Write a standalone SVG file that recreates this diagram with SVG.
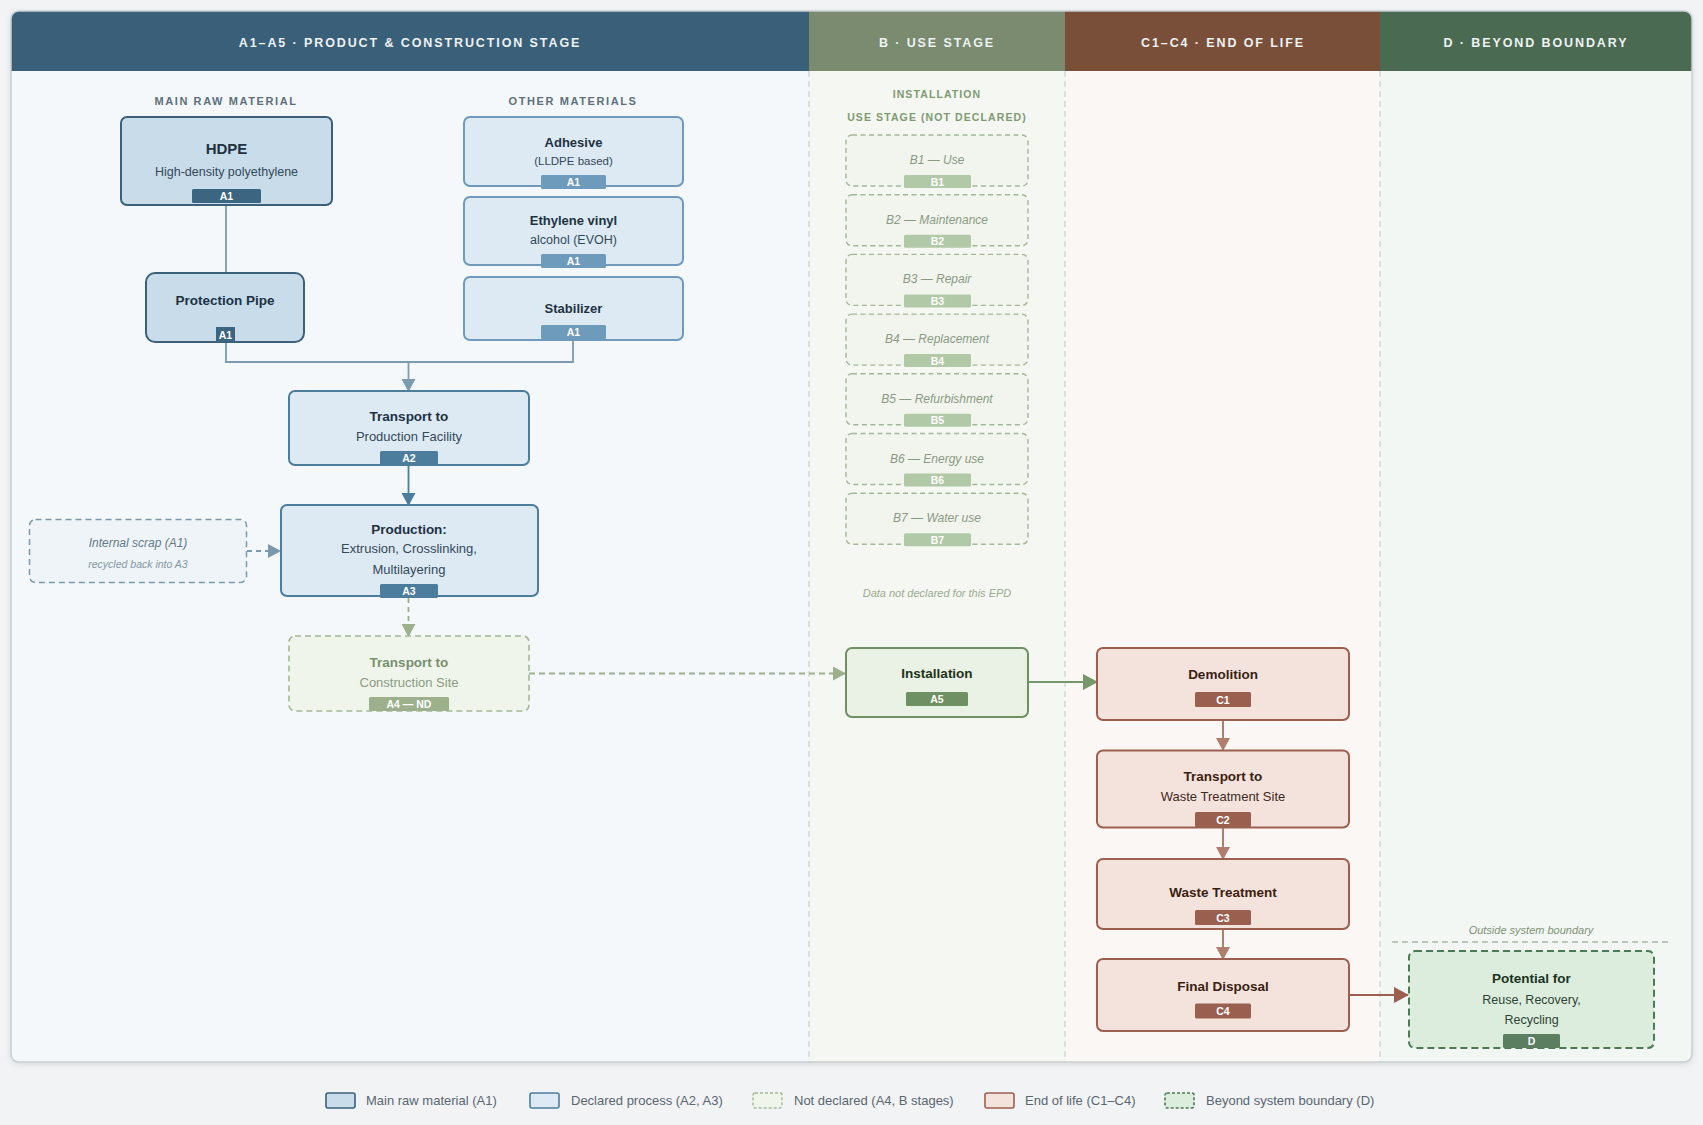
<svg xmlns="http://www.w3.org/2000/svg" width="1703" height="1125" viewBox="0 0 1703 1125">
<defs>
<style>
text{font-family:"Liberation Sans",Arial,sans-serif;text-anchor:middle}
.hdr{font-size:12.5px;font-weight:bold;fill:#eef2f4;letter-spacing:1.9px}
.sec{font-size:11px;font-weight:bold;fill:#5d707c;letter-spacing:1.6px}
.secg{font-size:10.5px;font-weight:bold;fill:#7f9a72;letter-spacing:1.1px}
.t{font-size:13.5px;font-weight:bold;fill:#1e3242}
.s{font-size:12.5px;fill:#34495a}
.bt{font-size:10.5px;font-weight:bold;fill:#fff}
.raw{fill:#c9dcea;stroke:#3b6079;stroke-width:2}
.dec{fill:#dde9f3;stroke:#4d7d9d;stroke-width:2}
.oth{fill:#dde9f3;stroke:#6f9abb;stroke-width:2}
.nd{fill:#f0f5ec;stroke:#a4b896;stroke-width:1.6;stroke-dasharray:6 4}
.bnd{fill:#f1f5ee;stroke:#a4b896;stroke-width:1.4;stroke-dasharray:5 3.5}
.blab{font-size:12px;font-style:italic;fill:#8b9a84}
.inst{fill:#eaf1e5;stroke:#6f9062;stroke-width:2}
.eol{fill:#f4e3dc;stroke:#9b5f4f;stroke-width:2}
.te{font-size:13.5px;font-weight:bold;fill:#3b1e12}
.se{font-size:12.5px;fill:#3f2a22}
.bey{fill:#dcedde;stroke:#4b7a54;stroke-width:2;stroke-dasharray:7 4}
.leg{font-size:13px;fill:#5a6670;text-anchor:start}
.vsep{stroke:#c9d0d4;stroke-width:1.2;stroke-dasharray:6 4}
</style>
<filter id="sh" x="-5%" y="-5%" width="110%" height="110%"><feDropShadow dx="0" dy="2" stdDeviation="3" flood-color="#000" flood-opacity="0.12"/></filter>
<clipPath id="pc"><rect x="11" y="11" width="1681" height="1051" rx="8"/></clipPath>
<marker id="mB" markerUnits="userSpaceOnUse" markerWidth="14" markerHeight="14" refX="12" refY="7" orient="auto"><path d="M0,0 L13,7 L0,14 Z" fill="#7b9bb1"/></marker>
<marker id="mB2" markerUnits="userSpaceOnUse" markerWidth="14" markerHeight="14" refX="12" refY="7" orient="auto"><path d="M0,0 L13,7 L0,14 Z" fill="#4d7d9d"/></marker>
<marker id="mS" markerUnits="userSpaceOnUse" markerWidth="14" markerHeight="14" refX="12" refY="7" orient="auto"><path d="M0,0 L13,7 L0,14 Z" fill="#7b98ac"/></marker>
<marker id="mG" markerUnits="userSpaceOnUse" markerWidth="14" markerHeight="14" refX="12" refY="7" orient="auto"><path d="M0,0 L13,7 L0,14 Z" fill="#9cb08c"/></marker>
<marker id="mG2" markerUnits="userSpaceOnUse" markerWidth="16" markerHeight="16" refX="14" refY="8" orient="auto"><path d="M0,0 L15,8 L0,16 Z" fill="#76976a"/></marker>
<marker id="mC" markerUnits="userSpaceOnUse" markerWidth="14" markerHeight="14" refX="12" refY="7" orient="auto"><path d="M0,0 L13,7 L0,14 Z" fill="#b07e6d"/></marker>
<marker id="mC2" markerUnits="userSpaceOnUse" markerWidth="16" markerHeight="16" refX="14" refY="8" orient="auto"><path d="M0,0 L15,8 L0,16 Z" fill="#9b5f4f"/></marker>
</defs>
<rect x="0" y="0" width="1703" height="1125" fill="#f1f3f5"/>

<g id="panel">
<rect x="11" y="11" width="1681" height="1051" rx="8" fill="#f4f8fb" filter="url(#sh)"/>
<g clip-path="url(#pc)">
<rect x="11" y="71" width="798" height="991" fill="#f4f8fb"/>
<rect x="809" y="71" width="256" height="991" fill="#f5f7f3"/>
<rect x="1065" y="71" width="315" height="991" fill="#fbf7f4"/>
<rect x="1380" y="71" width="312" height="991" fill="#f3f7f3"/>
<rect x="11" y="11" width="798" height="60" fill="#3a5f79"/>
<rect x="809" y="11" width="256" height="60" fill="#7a8b6f"/>
<rect x="1065" y="11" width="315" height="60" fill="#794f3a"/>
<rect x="1380" y="11" width="312" height="60" fill="#4a6a51"/>
</g>
<rect x="11" y="11" width="1681" height="1051" rx="8" fill="none" stroke="#c8cfd4" stroke-width="1.5"/>
<line class="vsep" x1="809" y1="71" x2="809" y2="1062"/>
<line class="vsep" x1="1065" y1="71" x2="1065" y2="1062"/>
<line class="vsep" x1="1380" y1="71" x2="1380" y2="1062"/>
<text class="hdr" x="410" y="46.5">A1–A5 · PRODUCT &amp; CONSTRUCTION STAGE</text>
<text class="hdr" x="937" y="46.5">B · USE STAGE</text>
<text class="hdr" x="1223" y="46.5">C1–C4 · END OF LIFE</text>
<text class="hdr" x="1536" y="46.5">D · BEYOND BOUNDARY</text>
<text class="sec" x="226" y="105">MAIN RAW MATERIAL</text>
<text class="sec" x="573" y="105">OTHER MATERIALS</text>
<text class="secg" x="937" y="98">INSTALLATION</text>
<text class="secg" x="937" y="121">USE STAGE (NOT DECLARED)</text>
<text x="937" y="597" style="font-size:11px;font-style:italic;fill:#9aab90">Data not declared for this EPD</text>
<text x="1531" y="934" style="font-size:11px;font-style:italic;fill:#7f9276">Outside system boundary</text>
<line x1="1392" y1="942" x2="1668" y2="942" stroke="#a9b8a5" stroke-width="1.3" stroke-dasharray="6 4"/>
</g>

<g id="connectors" fill="none">
<line x1="226" y1="205" x2="226" y2="273" stroke="#6f8da1" stroke-width="1.6"/>
<polyline points="226,342 226,362 573,362 573,341" stroke="#7b9bb1" stroke-width="1.8"/>
<line x1="408.5" y1="362" x2="408.5" y2="391" stroke="#7b9bb1" stroke-width="1.8" marker-end="url(#mB)"/>
<line x1="408.5" y1="465" x2="408.5" y2="505" stroke="#4d7d9d" stroke-width="1.8" marker-end="url(#mB2)"/>
<line x1="247" y1="551" x2="280" y2="551" stroke="#7b98ac" stroke-width="1.8" stroke-dasharray="5 4" marker-end="url(#mS)"/>
<line x1="408.5" y1="598" x2="408.5" y2="636" stroke="#9cb08c" stroke-width="1.8" stroke-dasharray="5 4" marker-end="url(#mG)"/>
<line x1="529" y1="673.5" x2="845" y2="673.5" stroke="#9cb08c" stroke-width="1.8" stroke-dasharray="6 4" marker-end="url(#mG)"/>
<line x1="1029" y1="682" x2="1097" y2="682" stroke="#76976a" stroke-width="2" marker-end="url(#mG2)"/>
<line x1="1223" y1="720" x2="1223" y2="750" stroke="#b07e6d" stroke-width="2" marker-end="url(#mC)"/>
<line x1="1223" y1="828" x2="1223" y2="859" stroke="#b07e6d" stroke-width="2" marker-end="url(#mC)"/>
<line x1="1223" y1="929" x2="1223" y2="959" stroke="#b07e6d" stroke-width="2" marker-end="url(#mC)"/>
<line x1="1349" y1="995" x2="1408" y2="995" stroke="#9b5f4f" stroke-width="2.2" marker-end="url(#mC2)"/>
</g>

<g id="hdpe">
<rect class="raw" x="121" y="117" width="211" height="88" rx="6"/>
<text class="t" x="226.5" y="154" style="font-size:15px">HDPE</text>
<text class="s" x="226.5" y="176">High-density polyethylene</text>
<rect x="192" y="189" width="69" height="14" rx="1.5" fill="#3b6580"/>
<text class="bt" x="226.5" y="200.2">A1</text>
</g>
<g id="protection-pipe">
<rect class="raw" x="146" y="273" width="158" height="69" rx="9"/>
<text class="t" x="225" y="305">Protection Pipe</text>
<rect x="216" y="327" width="19" height="15" fill="#3b6580"/>
<text class="bt" x="225.5" y="338.8">A1</text>
</g>
<g id="adhesive">
<rect class="oth" x="464" y="117" width="219" height="69" rx="6"/>
<text class="t" x="573.5" y="147" style="font-size:13px">Adhesive</text>
<text class="s" x="573.5" y="165" style="font-size:11.5px">(LLDPE based)</text>
<rect x="541" y="175" width="65" height="14" rx="1.5" fill="#6e9abb"/>
<text class="bt" x="573.5" y="186.2">A1</text>
</g>
<g id="evoh">
<rect class="oth" x="464" y="197" width="219" height="68" rx="6"/>
<text class="t" x="573.5" y="225" style="font-size:13px">Ethylene vinyl</text>
<text class="s" x="573.5" y="244">alcohol (EVOH)</text>
<rect x="541" y="254" width="65" height="14" rx="1.5" fill="#6e9abb"/>
<text class="bt" x="573.5" y="265.2">A1</text>
</g>
<g id="stabilizer">
<rect class="oth" x="464" y="277" width="219" height="63" rx="6"/>
<text class="t" x="573.5" y="313" style="font-size:13px">Stabilizer</text>
<rect x="541" y="325" width="65" height="14" rx="1.5" fill="#6e9abb"/>
<text class="bt" x="573.5" y="336.2">A1</text>
</g>
<g id="transport-production">
<rect class="dec" x="289" y="391" width="240" height="74" rx="6"/>
<text class="t" x="409" y="421">Transport to</text>
<text class="s" x="409" y="441" style="font-size:13px">Production Facility</text>
<rect x="380" y="451" width="58" height="14" rx="1.5" fill="#4d7d9d"/>
<text class="bt" x="409" y="462.2">A2</text>
</g>
<g id="production">
<rect class="dec" x="281" y="505" width="257" height="91" rx="6"/>
<text class="t" x="409" y="533.5">Production:</text>
<text class="s" x="409" y="553" style="font-size:13px">Extrusion, Crosslinking,</text>
<text class="s" x="409" y="573.5" style="font-size:13px">Multilayering</text>
<rect x="380" y="584" width="58" height="14" rx="1.5" fill="#4d7d9d"/>
<text class="bt" x="409" y="595.2">A3</text>
</g>
<g id="internal-scrap">
<rect x="29.5" y="519.5" width="217" height="63" rx="6" fill="#eef4f7" stroke="#7b98ac" stroke-width="1.5" stroke-dasharray="6 4"/>
<text x="138" y="547" style="font-size:12px;font-style:italic;fill:#66798a">Internal scrap (A1)</text>
<text x="138" y="568" style="font-size:10.5px;font-style:italic;fill:#8597a4">recycled back into A3</text>
</g>
<g id="transport-construction">
<rect class="nd" x="289" y="636" width="240" height="75" rx="6"/>
<text class="t" x="409" y="667" style="fill:#7a8f6e">Transport to</text>
<text class="s" x="409" y="687" style="font-size:13px;fill:#8a9b80">Construction Site</text>
<rect x="369" y="697" width="80" height="14" rx="1.5" fill="#9cb08c"/>
<text class="bt" x="409" y="708.2">A4 — ND</text>
</g>

<g id="b1"><rect class="bnd" x="846" y="135" width="182" height="51" rx="6"/><text class="blab" x="937" y="164">B1 — Use</text><rect x="904" y="175" width="67" height="13" rx="1.5" fill="#b2c9a8"/><text class="bt" x="937.5" y="185.5">B1</text></g>
<g id="b2"><rect class="bnd" x="846" y="194.7" width="182" height="51" rx="6"/><text class="blab" x="937" y="223.7">B2 — Maintenance</text><rect x="904" y="234.7" width="67" height="13" rx="1.5" fill="#b2c9a8"/><text class="bt" x="937.5" y="245.2">B2</text></g>
<g id="b3"><rect class="bnd" x="846" y="254.4" width="182" height="51" rx="6"/><text class="blab" x="937" y="283.4">B3 — Repair</text><rect x="904" y="294.4" width="67" height="13" rx="1.5" fill="#b2c9a8"/><text class="bt" x="937.5" y="304.9">B3</text></g>
<g id="b4"><rect class="bnd" x="846" y="314.1" width="182" height="51" rx="6"/><text class="blab" x="937" y="343.1">B4 — Replacement</text><rect x="904" y="354.1" width="67" height="13" rx="1.5" fill="#b2c9a8"/><text class="bt" x="937.5" y="364.6">B4</text></g>
<g id="b5"><rect class="bnd" x="846" y="373.8" width="182" height="51" rx="6"/><text class="blab" x="937" y="402.8">B5 — Refurbishment</text><rect x="904" y="413.8" width="67" height="13" rx="1.5" fill="#b2c9a8"/><text class="bt" x="937.5" y="424.3">B5</text></g>
<g id="b6"><rect class="bnd" x="846" y="433.5" width="182" height="51" rx="6"/><text class="blab" x="937" y="462.5">B6 — Energy use</text><rect x="904" y="473.5" width="67" height="13" rx="1.5" fill="#b2c9a8"/><text class="bt" x="937.5" y="484">B6</text></g>
<g id="b7"><rect class="bnd" x="846" y="493.2" width="182" height="51" rx="6"/><text class="blab" x="937" y="522.2">B7 — Water use</text><rect x="904" y="533.2" width="67" height="13" rx="1.5" fill="#b2c9a8"/><text class="bt" x="937.5" y="543.7">B7</text></g>

<g id="installation">
<rect class="inst" x="846" y="648" width="182" height="69" rx="6"/>
<text class="t" x="937" y="678" style="fill:#22331c">Installation</text>
<rect x="906" y="692" width="62" height="14" rx="1.5" fill="#6f9062"/>
<text class="bt" x="937" y="703.2">A5</text>
</g>
<g id="demolition">
<rect class="eol" x="1097" y="648" width="252" height="72" rx="6"/>
<text class="te" x="1223" y="679">Demolition</text>
<rect x="1195" y="692" width="56" height="15" rx="1.5" fill="#9b5f4f"/>
<text class="bt" x="1223" y="703.7">C1</text>
</g>
<g id="transport-waste">
<rect class="eol" x="1097" y="750.5" width="252" height="77" rx="6"/>
<text class="te" x="1223" y="781">Transport to</text>
<text class="se" x="1223" y="801" style="font-size:13px">Waste Treatment Site</text>
<rect x="1195" y="812" width="56" height="15" rx="1.5" fill="#9b5f4f"/>
<text class="bt" x="1223" y="823.7">C2</text>
</g>
<g id="waste-treatment">
<rect class="eol" x="1097" y="859" width="252" height="70" rx="6"/>
<text class="te" x="1223" y="896.5">Waste Treatment</text>
<rect x="1195" y="910" width="56" height="15" rx="1.5" fill="#9b5f4f"/>
<text class="bt" x="1223" y="921.7">C3</text>
</g>
<g id="final-disposal">
<rect class="eol" x="1097" y="959" width="252" height="72" rx="6"/>
<text class="te" x="1223" y="990.5">Final Disposal</text>
<rect x="1195" y="1003.5" width="56" height="15" rx="1.5" fill="#9b5f4f"/>
<text class="bt" x="1223" y="1015.2">C4</text>
</g>
<g id="potential">
<rect class="bey" x="1409" y="951" width="245" height="97" rx="6"/>
<text class="t" x="1531.5" y="983" style="fill:#1c3320">Potential for</text>
<text class="s" x="1531.5" y="1003.5" style="fill:#2e4232">Reuse, Recovery,</text>
<text class="s" x="1531.5" y="1023.5" style="fill:#2e4232">Recycling</text>
<rect x="1503" y="1034" width="57" height="14" rx="1.5" fill="#5a7e5f"/>
<text class="bt" x="1531.5" y="1045.2">D</text>
</g>

<g id="legend">
<rect x="326" y="1093" width="29" height="15" rx="2" fill="#c9dcea" stroke="#3b6079" stroke-width="1.6"/>
<text class="leg" x="366" y="1105">Main raw material (A1)</text>
<rect x="530" y="1093" width="29" height="15" rx="2" fill="#dde9f3" stroke="#4d7d9d" stroke-width="1.6"/>
<text class="leg" x="571" y="1105">Declared process (A2, A3)</text>
<rect x="753" y="1093" width="29" height="15" rx="2" fill="#f0f5ec" stroke="#a4b896" stroke-width="1.4" stroke-dasharray="3 2"/>
<text class="leg" x="794" y="1105">Not declared (A4, B stages)</text>
<rect x="985" y="1093" width="29" height="15" rx="2" fill="#f4e3dc" stroke="#9b5f4f" stroke-width="1.6"/>
<text class="leg" x="1025" y="1105">End of life (C1–C4)</text>
<rect x="1165" y="1093" width="29" height="15" rx="2" fill="#dcedde" stroke="#4b7a54" stroke-width="1.6" stroke-dasharray="3 2"/>
<text class="leg" x="1206" y="1105">Beyond system boundary (D)</text>
</g>
</svg>
